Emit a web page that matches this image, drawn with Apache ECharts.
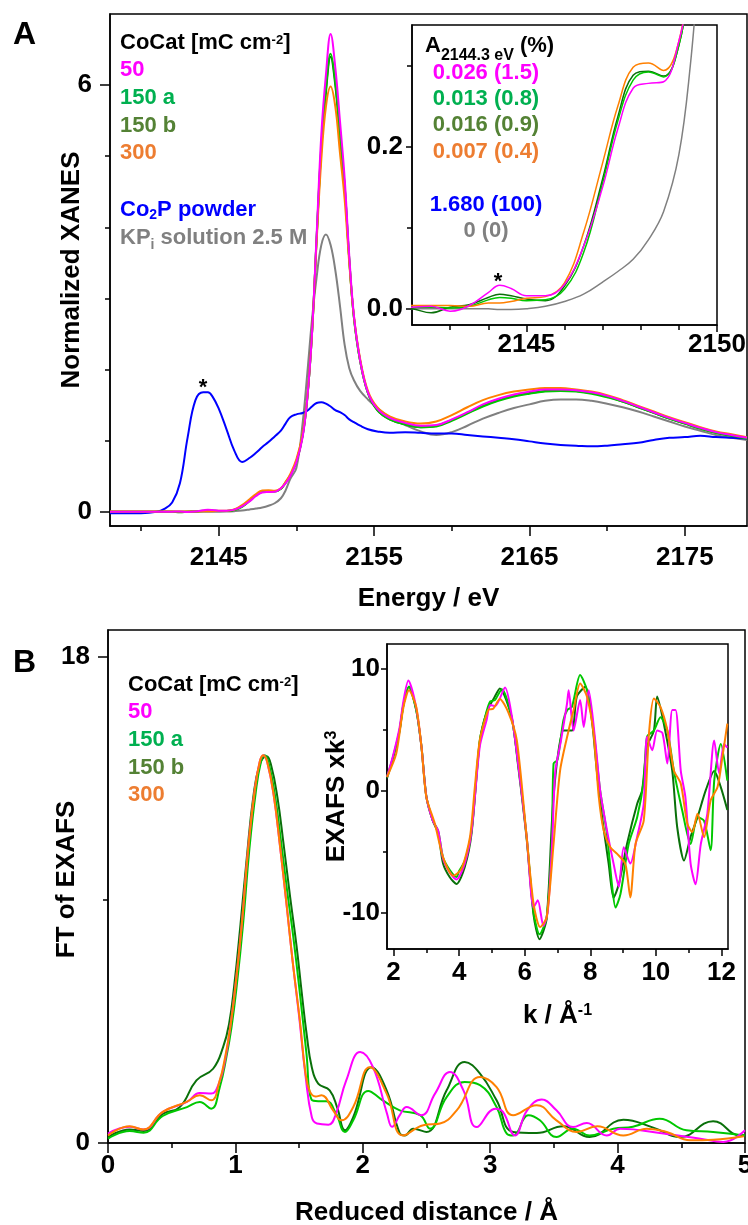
<!DOCTYPE html>
<html>
<head>
<meta charset="utf-8">
<script src="https://cdn.jsdelivr.net/npm/echarts@6.0.0/dist/echarts.min.js"></script>
<style>
html,body{margin:0;padding:0;background:#fff;}
#chart{width:748px;height:1225px;}
</style>
</head>
<body>
<div id="chart"></div>
<script>
// ---------------- DATA ----------------
// Panel A: Co K-edge XANES (energy in eV)
const xanesEnergy = [2138, 2139, 2140, 2141, 2141.5, 2142, 2142.5, 2143, 2143.5, 2144, 2144.3, 2144.6, 2145, 2145.5, 2146, 2146.5, 2147, 2147.4, 2147.8, 2148.2, 2148.6, 2149, 2149.3, 2149.6, 2150, 2150.4, 2150.7, 2151, 2151.3, 2151.6, 2151.9, 2152.2, 2152.5, 2152.8, 2153.1, 2153.4, 2153.7, 2154.1, 2154.6, 2155.2, 2156, 2157, 2158, 2159, 2160, 2161, 2162, 2163, 2164, 2165, 2166, 2167, 2168, 2169, 2170, 2171, 2172, 2173, 2174, 2175, 2176, 2177, 2178, 2179];
const xanes50 = [0, 0, 0.001, 0, 0.001, 0.002, 0.003, -0.003, 0.004, 0.02, 0.029, 0.025, 0.016, 0.016, 0.03, 0.077, 0.15, 0.222, 0.272, 0.278, 0.28, 0.33, 0.40, 0.50, 0.70, 1.05, 1.6, 2.5, 3.9, 5.3, 6.15, 6.72, 6.25, 5.5, 4.7, 3.6, 2.76, 2.13, 1.68, 1.45, 1.32, 1.25, 1.21, 1.22, 1.30, 1.40, 1.51, 1.59, 1.65, 1.69, 1.72, 1.72, 1.71, 1.68, 1.63, 1.56, 1.48, 1.40, 1.32, 1.25, 1.18, 1.12, 1.08, 1.04];
const xanes150a = [0.001, 0.001, 0.001, 0.001, 0.001, 0.002, 0.002, 0.001, 0.003, 0.011, 0.014, 0.013, 0.010, 0.011, 0.024, 0.069, 0.155, 0.232, 0.282, 0.292, 0.286, 0.325, 0.41, 0.51, 0.71, 1.07, 1.6, 2.5, 3.85, 5.15, 5.95, 6.44, 6.05, 5.3, 4.6, 3.55, 2.73, 2.12, 1.67, 1.43, 1.30, 1.23, 1.19, 1.20, 1.28, 1.38, 1.48, 1.56, 1.62, 1.66, 1.69, 1.70, 1.69, 1.66, 1.61, 1.55, 1.47, 1.39, 1.31, 1.24, 1.17, 1.11, 1.07, 1.03];
const xanes150b = [0.001, 0.001, 0.001, 0.001, 0.001, 0.0, -0.005, 0.002, 0.005, 0.014, 0.018, 0.016, 0.012, 0.010, 0.028, 0.077, 0.16, 0.237, 0.288, 0.293, 0.287, 0.325, 0.41, 0.51, 0.71, 1.07, 1.6, 2.5, 3.85, 5.1, 5.9, 6.40, 6.0, 5.28, 4.58, 3.55, 2.73, 2.12, 1.67, 1.43, 1.30, 1.23, 1.19, 1.21, 1.29, 1.39, 1.49, 1.57, 1.63, 1.67, 1.70, 1.71, 1.70, 1.67, 1.62, 1.55, 1.47, 1.39, 1.31, 1.24, 1.17, 1.11, 1.07, 1.03];
const xanes300 = [0.003, 0.003, 0.003, 0.003, 0.003, 0.004, 0.004, 0.004, 0.003, 0.007, 0.007, 0.009, 0.013, 0.015, 0.032, 0.094, 0.18, 0.25, 0.298, 0.303, 0.294, 0.33, 0.42, 0.53, 0.74, 1.1, 1.62, 2.5, 3.8, 4.95, 5.7, 5.98, 5.7, 5.05, 4.4, 3.5, 2.75, 2.15, 1.70, 1.47, 1.34, 1.27, 1.24, 1.27, 1.36, 1.47, 1.57, 1.64, 1.69, 1.72, 1.74, 1.74, 1.72, 1.69, 1.64, 1.57, 1.49, 1.41, 1.33, 1.26, 1.19, 1.13, 1.09, 1.05];
const xanesCo2P = [-0.02, -0.02, -0.02, 0.0, 0.04, 0.13, 0.40, 1.05, 1.57, 1.68, 1.68, 1.62, 1.45, 1.16, 0.86, 0.70, 0.76, 0.83, 0.91, 0.98, 1.06, 1.14, 1.24, 1.33, 1.37, 1.39, 1.42, 1.48, 1.53, 1.54, 1.52, 1.48, 1.43, 1.40, 1.36, 1.30, 1.26, 1.21, 1.16, 1.13, 1.11, 1.12, 1.11, 1.10, 1.10, 1.08, 1.06, 1.04, 1.02, 0.99, 0.96, 0.94, 0.93, 0.92, 0.93, 0.95, 0.97, 1.01, 1.04, 1.05, 1.07, 1.05, 1.04, 1.03];
const xanesKPi = [0, 0, 0, 0, 0, 0, 0, 0, 0, 0, -0.001, -0.001, 0.0, 0.003, 0.009, 0.018, 0.033, 0.046, 0.061, 0.085, 0.12, 0.19, 0.30, 0.46, 0.62, 1.25, 1.95, 2.7, 3.3, 3.75, 3.90, 3.75, 3.4, 2.9, 2.35, 2.02, 1.85, 1.70, 1.58, 1.46, 1.33, 1.22, 1.13, 1.08, 1.12, 1.21, 1.31, 1.39, 1.46, 1.51, 1.56, 1.58, 1.58, 1.56, 1.52, 1.47, 1.41, 1.34, 1.27, 1.20, 1.14, 1.08, 1.04, 1.01];

// Panel B: FT of EXAFS, [reduced distance, magnitude]
const ft50 = [[0,0.35],[0.17,0.6],[0.28,0.5],[0.43,1.15],[0.62,1.52],[0.72,1.85],[0.81,1.83],[0.87,2.2],[0.92,3.1],[0.96,4.3],[1.0,5.8],[1.05,8.1],[1.10,10.9],[1.15,13.0],[1.19,14.1],[1.22,14.36],[1.25,14.1],[1.30,12.9],[1.35,11.0],[1.40,8.9],[1.45,6.7],[1.50,4.7],[1.55,2.5],[1.60,0.95],[1.64,0.72],[1.73,0.68],[1.79,1.09],[1.87,2.32],[1.98,3.37],[2.08,2.81],[2.19,1.09],[2.23,0.6],[2.29,1.03],[2.344,1.33],[2.46,1.03],[2.567,1.83],[2.684,2.63],[2.79,1.95],[2.894,0.59],[3.04,1.27],[3.10,1.15],[3.195,0.28],[3.29,1.21],[3.405,1.61],[3.52,1.21],[3.65,0.59],[3.758,0.74],[3.915,0.28],[4.02,0.53],[4.36,0.35],[4.65,0.16],[4.83,0.04],[5,0.47]];
const ft150a = [[0,0.16],[0.17,0.44],[0.28,0.38],[0.43,1.0],[0.62,1.33],[0.72,1.52],[0.81,1.27],[0.877,2.06],[0.93,3.2],[0.97,4.3],[1.01,5.8],[1.06,8.1],[1.11,10.9],[1.16,13.0],[1.20,14.1],[1.23,14.36],[1.26,14.1],[1.31,12.9],[1.36,11.1],[1.41,9.2],[1.45,7.8],[1.50,5.8],[1.558,3.3],[1.598,1.6],[1.65,1.55],[1.715,1.55],[1.79,1.09],[1.86,0.41],[1.925,0.84],[2.043,1.93],[2.15,1.6],[2.29,1.21],[2.45,1.03],[2.527,0.53],[2.658,1.70],[2.80,2.26],[2.92,2.14],[3.05,1.33],[3.13,0.35],[3.18,0.28],[3.30,1.03],[3.39,0.84],[3.52,0.22],[3.65,0.53],[3.78,0.28],[3.967,0.53],[4.12,0.6],[4.33,0.9],[4.54,0.47],[4.75,0.41],[5,0.28]];
const ft150b = [[0,0.22],[0.17,0.5],[0.28,0.44],[0.43,1.08],[0.563,1.33],[0.694,2.32],[0.825,2.75],[0.904,3.56],[0.95,4.4],[0.99,5.8],[1.04,8.1],[1.09,10.6],[1.14,12.8],[1.19,14.0],[1.245,14.32],[1.28,14.0],[1.33,12.8],[1.38,11.0],[1.43,9.1],[1.48,7.3],[1.52,5.6],[1.56,4.0],[1.60,2.8],[1.65,2.2],[1.74,1.95],[1.80,1.3],[1.86,0.47],[1.925,0.96],[2.07,2.81],[2.187,1.95],[2.29,0.36],[2.33,0.28],[2.396,0.53],[2.5,0.41],[2.658,1.95],[2.80,3.0],[2.92,2.57],[3.05,1.58],[3.18,0.41],[3.365,0.37],[3.574,0.62],[3.78,0.22],[4.045,0.86],[4.28,0.57],[4.49,0.22],[4.75,0.81],[4.96,0.28],[5,0.3]];
const ft300 = [[0,0.28],[0.17,0.62],[0.275,0.50],[0.43,1.15],[0.616,1.52],[0.72,1.77],[0.81,1.58],[0.877,2.32],[0.92,3.2],[0.96,4.3],[1.0,5.8],[1.05,8.1],[1.10,10.9],[1.15,13.0],[1.19,14.1],[1.218,14.36],[1.25,14.1],[1.30,12.9],[1.35,11.0],[1.40,8.9],[1.45,6.7],[1.506,4.54],[1.55,2.6],[1.585,1.9],[1.63,1.72],[1.676,1.77],[1.767,1.21],[1.833,0.84],[1.925,1.33],[2.055,2.81],[2.187,1.83],[2.317,0.28],[2.475,0.66],[2.606,0.72],[2.737,1.21],[2.92,2.44],[3.05,2.07],[3.18,1.03],[3.365,1.40],[3.52,0.84],[3.68,0.41],[3.84,0.62],[4.045,0.28],[4.23,0.53],[4.386,0.41],[4.57,0.1],[4.75,0.12],[4.99,0.25]];

// Panel B inset: EXAFS x k^3, [k, value]
const exafs50 = [[1.8,1.1],[1.98,2.8],[2.18,5.1],[2.3,7.3],[2.45,9.0],[2.69,6.8],[2.85,3.6],[3.0,-0.5],[3.2,-2.5],[3.36,-3.3],[3.51,-5.6],[3.71,-6.7],[3.92,-7.3],[4.17,-6.0],[4.38,-3.3],[4.63,3.6],[4.84,5.8],[4.95,7.0],[5.1,6.9],[5.4,8.44],[5.6,6.2],[5.8,2.2],[6.06,-3.8],[6.27,-9.6],[6.4,-9.0],[6.57,-11.1],[6.7,-10.0],[6.83,-4.7],[6.93,1.5],[7.1,4.0],[7.29,7.1],[7.34,8.2],[7.49,4.9],[7.69,7.4],[7.8,5.2],[7.95,8.2],[8.15,4.1],[8.3,0],[8.51,-3.3],[8.71,-6.0],[8.87,-7.9],[9.02,-4.66],[9.22,-6.0],[9.43,-3.8],[9.63,-1.1],[9.73,4.4],[9.89,3.3],[10.04,4.9],[10.2,4.7],[10.35,2.2],[10.5,6.6],[10.6,6.6],[10.76,1.6],[10.9,-0.55],[11.06,-6.0],[11.21,-7.7],[11.37,-4.4],[11.57,-1.9],[11.78,4.1],[11.93,1.4],[12.08,3.8],[12.18,3.5]];
const exafs150a = [[1.8,1.1],[1.98,2.7],[2.18,4.9],[2.3,7.0],[2.47,8.5],[2.69,6.6],[2.85,3.6],[3.0,-0.5],[3.2,-2.5],[3.36,-3.3],[3.51,-5.5],[3.71,-6.5],[3.92,-7.1],[4.0,-6.6],[4.17,-5.8],[4.38,-3.3],[4.63,4.1],[4.84,6.5],[4.95,7.3],[5.09,7.4],[5.3,8.3],[5.6,6.0],[5.8,2.2],[6.06,-3.8],[6.27,-10.0],[6.45,-11.8],[6.67,-10.4],[6.83,-4.0],[6.88,2.2],[7.0,2.5],[7.18,5.75],[7.3,6.6],[7.44,6.85],[7.69,9.45],[7.9,8.2],[8.1,4.9],[8.3,0],[8.51,-3.6],[8.66,-7.7],[8.77,-9.6],[8.92,-8.5],[9.17,-4.4],[9.43,-2.2],[9.63,0.8],[9.73,4.4],[9.94,4.9],[10.14,6.0],[10.35,4.9],[10.55,1.6],[10.8,-1.6],[11.06,-4.4],[11.27,-2.2],[11.47,-2.5],[11.67,-4.9],[11.78,0.8],[11.98,3.8],[12.18,0.8]];
const exafs150b = [[1.8,1.0],[1.98,2.6],[2.18,4.8],[2.3,7.0],[2.47,8.5],[2.69,6.6],[2.85,3.6],[3.0,-0.5],[3.2,-2.5],[3.36,-3.5],[3.51,-6.0],[3.71,-7.1],[3.92,-7.67],[4.17,-6.3],[4.38,-3.5],[4.63,4.0],[4.84,6.4],[5.09,7.7],[5.24,8.36],[5.6,6.0],[5.8,2.0],[6.06,-4.0],[6.27,-10.2],[6.45,-12.2],[6.67,-10.5],[6.88,-0.5],[7.18,4.9],[7.44,4.9],[7.59,7.7],[7.85,8.5],[8.05,5.75],[8.2,1.6],[8.36,-2.2],[8.56,-6.0],[8.71,-8.8],[8.87,-7.7],[9.12,-4.4],[9.43,-1.1],[9.58,0],[9.73,3.6],[9.94,4.9],[10.04,7.7],[10.24,5.5],[10.5,1.6],[10.65,-3.0],[10.86,-5.75],[11.06,-3.8],[11.27,-2.2],[11.52,0],[11.78,1.6],[11.98,0.27],[12.18,-1.6]];
const exafs300 = [[1.8,1.1],[2.08,3.0],[2.3,6.8],[2.47,8.2],[2.69,6.85],[2.85,3.6],[3.0,-0.55],[3.26,-2.74],[3.51,-5.48],[3.82,-7.0],[4.07,-6.44],[4.33,-3.84],[4.48,0.3],[4.63,4.1],[4.89,6.6],[5.04,6.7],[5.24,7.5],[5.5,6.4],[5.76,4.1],[6.06,-3.84],[6.27,-9.3],[6.47,-11.2],[6.67,-10.4],[6.88,-4.38],[7.08,1.64],[7.34,4.93],[7.49,6.58],[7.69,8.77],[7.9,7.67],[8.1,4.66],[8.26,-0.55],[8.41,-3.29],[8.61,-4.66],[8.82,-5.2],[9.07,-6.03],[9.22,-8.77],[9.38,-4.38],[9.63,-2.47],[9.79,4.66],[9.94,7.53],[10.14,6.85],[10.35,4.93],[10.55,1.64],[10.76,0.55],[10.96,-2.74],[11.11,-3.42],[11.27,-1.92],[11.47,-3.84],[11.67,-0.82],[11.88,0.27],[12.03,2.74],[12.18,5.48]];

// Tick labels / tick positions
const xanesXLabels = [2145, 2155, 2165, 2175];
const xanesXMinor = [2140, 2150, 2160, 2170];
const xanesYLabels = [0, 6];
const xanesYMinor = [1, 2, 3, 4, 5];
const insetAXLabels = [2145, 2150];
const insetAXMinor = [2143, 2144, 2146, 2147, 2148, 2149];
const insetAYLabels = [0, 0.2];
const insetAYMinor = [0.1, 0.3];
const ftXLabels = [0, 1, 2, 3, 4, 5];
const ftXMinor = [0.5, 1.5, 2.5, 3.5, 4.5];
const ftYLabels = [0, 18];
const ftYMinor = [9];
const exafsXLabels = [2, 4, 6, 8, 10, 12];
const exafsXMinor = [3, 5, 7, 9, 11];
const exafsYLabels = [-10, 0, 10];
const exafsYMinor = [-5, 5];

// Legend texts
const sampleNames = ['50', '150 a', '150 b', '300'];
const insetAValues = ['0.026 (1.5)', '0.013 (0.8)', '0.016 (0.9)', '0.007 (0.4)'];
const insetARefValues = ['1.680 (100)', '0 (0)'];

// ---------------- STYLE ----------------
const FONT = '"Liberation Sans", Arial, Helvetica, sans-serif';
const C = {m:'#FF00FF', g:'#00C800', dg:'#0A700A', o:'#FF8000', b:'#0000FF', gr:'#808080'};
const T = {m:'#FF00FF', g:'#00B050', dg:'#548235', o:'#ED7D31', b:'#0000FF', gr:'#808080'};
const lineStyle = {color:'#000', width:1.5};
const lblBase = {color:'#000', fontSize:26, fontWeight:'bold', fontFamily:FONT};
const nameStyle = {color:'#000', fontSize:26, fontWeight:'bold', fontFamily:FONT,
  rich:{a:{fontSize:26, fontWeight:'bold', fontFamily:FONT, color:'#000'},
        s:{fontSize:16, fontWeight:'bold', fontFamily:FONT, color:'#000', verticalAlign:'top'}}};

function axis(grid, pos, min, max, ticks, tickLen, labels, margin, fmt, extra) {
  const a = {
    type:'value', gridIndex:grid, position:pos, min:min, max:max,
    axisLine:{show: !!labels, onZero:false, lineStyle:lineStyle},
    axisTick:{show:true, inside:false, length:tickLen, customValues:ticks, lineStyle:lineStyle},
    axisLabel: labels ? Object.assign({show:true, margin:margin, customValues:ticks, formatter:fmt}, lblBase) : {show:false},
    splitLine:{show:false}, minorTick:{show:false}, nameMoveOverlap:false
  };
  return Object.assign(a, extra || {});
}
const fmtInt = v => String(v);

const xAxis = [
  axis(0,'bottom',2138,2179,xanesXLabels,10,true,19,fmtInt,{name:'Energy / eV', nameLocation:'middle', nameGap:60, nameTextStyle:nameStyle}),
  axis(0,'bottom',2138,2179,xanesXMinor,5,false),
  axis(1,'bottom',2142,2150,insetAXLabels,7,true,7,fmtInt),
  axis(1,'bottom',2142,2150,insetAXMinor,5,false),
  axis(2,'bottom',0,5,ftXLabels,10,true,10,fmtInt,{name:'Reduced distance / Å', nameLocation:'middle', nameGap:57, nameTextStyle:nameStyle}),
  axis(2,'bottom',0,5,ftXMinor,5,false),
  axis(3,'bottom',1.8,12.2,exafsXLabels,7,true,11,fmtInt,{name:'{a|k / Å}{s|-1}', nameLocation:'middle', nameGap:54, nameTextStyle:nameStyle}),
  axis(3,'bottom',1.8,12.2,exafsXMinor,4,false)
];
const yAxis = [
  axis(0,'left',-0.2,7,xanesYLabels,10,true,18,fmtInt,{name:'Normalized XANES', nameLocation:'middle', nameGap:25, nameTextStyle:nameStyle}),
  axis(0,'left',-0.2,7,xanesYMinor,5,false),
  axis(1,'left',-0.02,0.35,insetAYLabels,6,true,9,v => v.toFixed(1)),
  axis(1,'left',-0.02,0.35,insetAYMinor,5,false),
  axis(2,'left',0,19,ftYLabels,10,true,18,fmtInt,{name:'FT of EXAFS', nameLocation:'middle', nameGap:28, nameTextStyle:Object.assign({}, nameStyle, {padding:[0,0,0,14]})}),
  axis(2,'left',0,19,ftYMinor,5,false),
  axis(3,'left',-13,12,exafsYLabels,6,true,7,fmtInt,{name:'{a|EXAFS xk}{s|3}', nameLocation:'middle', nameGap:37, nameTextStyle:nameStyle}),
  axis(3,'left',-13,12,exafsYMinor,4,false)
];

const zip = (xs, ys) => xs.map((x, i) => [x, ys[i]]);
function line(name, data, color, xi, yi, width, smooth) {
  return {type:'line', name:name, data:data, xAxisIndex:xi, yAxisIndex:yi,
    showSymbol:false, symbol:'none', smooth:smooth, clip:true,
    lineStyle:{color:color, width:width}, itemStyle:{color:color}, emphasis:{disabled:true}, silent:true};
}

const series = [
  // Panel A main
  line('KPi', zip(xanesEnergy, xanesKPi), C.gr, 0, 0, 2, 0.4),
  line('Co2P', zip(xanesEnergy, xanesCo2P), C.b, 0, 0, 2, 0.4),
  line('150 b', zip(xanesEnergy, xanes150b), C.dg, 0, 0, 2, 0.4),
  line('150 a', zip(xanesEnergy, xanes150a), C.g, 0, 0, 2, 0.4),
  line('300', zip(xanesEnergy, xanes300), C.o, 0, 0, 2, 0.4),
  line('50', zip(xanesEnergy, xanes50), C.m, 0, 0, 2, 0.4),
  // Panel A inset
  line('KPi', zip(xanesEnergy, xanesKPi), C.gr, 2, 2, 1.5, 0.4),
  line('150 b', zip(xanesEnergy, xanes150b), C.dg, 2, 2, 1.5, 0.4),
  line('150 a', zip(xanesEnergy, xanes150a), C.g, 2, 2, 1.5, 0.4),
  line('300', zip(xanesEnergy, xanes300), C.o, 2, 2, 1.5, 0.4),
  line('50', zip(xanesEnergy, xanes50), C.m, 2, 2, 1.5, 0.4),
  // Panel B main
  line('150 b', ft150b, C.dg, 4, 4, 2, 0.45),
  line('150 a', ft150a, C.g, 4, 4, 2, 0.45),
  line('50', ft50, C.m, 4, 4, 2, 0.45),
  line('300', ft300, C.o, 4, 4, 2, 0.45),
  // Panel B inset
  line('150 b', exafs150b, C.dg, 6, 6, 2, 0.25),
  line('150 a', exafs150a, C.g, 6, 6, 2, 0.25),
  line('50', exafs50, C.m, 6, 6, 2, 0.25),
  line('300', exafs300, C.o, 6, 6, 2, 0.25)
];

// ---------------- TEXT ----------------
function txt(x, y, text, color, size, align, rich) {
  return {type:'text', x:x, y:y, z:100, silent:true,
    style:{text:text, fill:color, fontSize:size, fontWeight:'bold', fontFamily:FONT,
      align:align || 'left', textAlign:align || 'left', verticalAlign:'middle', textVerticalAlign:'middle',
      rich:rich}};
}
// rich text: b = normal, s = superscript, d = subscript (lowered with top padding)
function richSet(color, big, small, subPad, supPad) {
  return {b:{fontSize:big, lineHeight:big, fontWeight:'bold', fontFamily:FONT, fill:color, verticalAlign:'top'},
          s:{fontSize:small, lineHeight:small, fontWeight:'bold', fontFamily:FONT, fill:color, verticalAlign:'top', padding:[supPad || 0, 0, 0, 0]},
          d:{fontSize:small, lineHeight:small, fontWeight:'bold', fontFamily:FONT, fill:color, verticalAlign:'top', padding:[subPad || 0, 0, 0, 0]}};
}
const sampleColors = [T.m, T.g, T.dg, T.o];
const graphic = [
  txt(13, 35, 'A', '#000', 32),
  txt(13, 663, 'B', '#000', 32),
  // legend A
  txt(120, 43, '{b|CoCat [mC cm}{s|-2}{b|]}', '#000', 22, 'left', richSet('#000', 22, 13, 0, 2)),
  ...sampleNames.map((n, i) => txt(120, [70, 98, 126, 153][i], n, sampleColors[i], 22)),
  txt(120, 210, '{b|Co}{d|2}{b|P powder}', T.b, 22, 'left', richSet(T.b, 22, 14, 9)),
  txt(120, 237.5, '{b|KP}{d|i}{b| solution 2.5 M}', T.gr, 22, 'left', richSet(T.gr, 22, 14, 12)),
  txt(203, 388, '*', '#000', 22, 'center'),
  // inset A legend
  txt(425, 46, '{b|A}{d|2144.3 eV}{b| (%)}', '#000', 22, 'left', richSet('#000', 22, 16, 13)),
  ...insetAValues.map((n, i) => txt(486, [73, 99, 125, 152][i], n, sampleColors[i], 22, 'center')),
  txt(486, 205, insetARefValues[0], T.b, 22, 'center'),
  txt(486, 231, insetARefValues[1], T.gr, 22, 'center'),
  txt(498, 282, '*', '#000', 22, 'center'),
  // legend B
  txt(128, 685, '{b|CoCat [mC cm}{s|-2}{b|]}', '#000', 22, 'left', richSet('#000', 22, 13, 0, 2)),
  ...sampleNames.map((n, i) => txt(128, [712, 740, 768, 795][i], n, sampleColors[i], 22))
];

const gridBase = {show:true, borderColor:'#000', borderWidth:1.5, containLabel:false, outerBoundsMode:'none'};
const option = {
  animation:false,
  textStyle:{fontFamily:FONT},
  grid:[
    Object.assign({left:110, top:14, width:637, height:512, backgroundColor:'transparent'}, gridBase),
    Object.assign({left:412, top:25, width:305, height:300, backgroundColor:'#fff'}, gridBase),
    Object.assign({left:108, top:630, width:637, height:513, backgroundColor:'transparent'}, gridBase),
    Object.assign({left:387, top:644, width:341, height:305, backgroundColor:'#fff'}, gridBase)
  ],
  xAxis:xAxis, yAxis:yAxis, series:series, graphic:graphic
};
const chart = echarts.init(document.getElementById('chart'), null, {renderer:'canvas'});
chart.setOption(option);
</script>
</body>
</html>
